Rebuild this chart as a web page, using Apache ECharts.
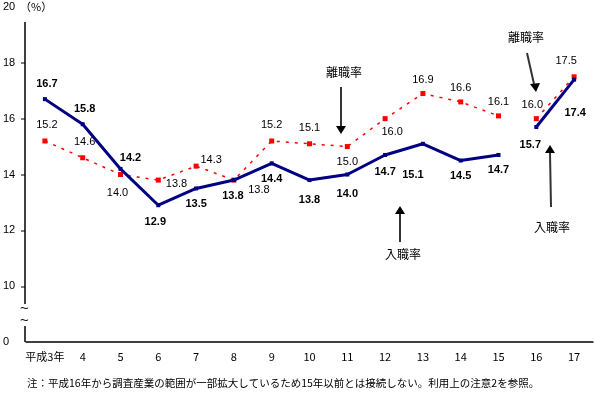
<!DOCTYPE html>
<html>
<head>
<meta charset="utf-8">
<script src="https://cdn.jsdelivr.net/npm/echarts@6/dist/echarts.min.js"></script>
<style>
  html, body { margin: 0; padding: 0; background: #fff; }
  #main { width: 595px; height: 396px; }
</style>
</head>
<body>
<div id="main"></div>
<script>
// 年次（平成）
const years = ['平成3年', '4', '5', '6', '7', '8', '9', '10', '11', '12', '13', '14', '15', '16', '17'];

// 入職率・離職率（%）
const nyushoku = [16.7, 15.8, 14.2, 12.9, 13.5, 13.8, 14.4, 13.8, 14.0, 14.7, 15.1, 14.5, 14.7, 15.7, 17.4];
const rishoku = [15.2, 14.6, 14.0, 13.8, 14.3, 13.8, 15.2, 15.1, 15.0, 16.0, 16.9, 16.6, 16.1, 16.0, 17.5];

// 平成16年から調査範囲が変わるので線を切る
const breakAt = 13;

// ラベル位置
const nyuPos = ['top', 'top', 'top', 'bottom', 'bottom', 'bottom', 'bottom', 'bottom', 'bottom', 'bottom', 'bottom', 'bottom', 'bottom', 'bottom', 'bottom'];
const riPos = ['top', 'top', 'bottom', 'right', 'top', 'bottom', 'top', 'top', 'bottom', 'bottom', 'top', 'top', 'top', 'top', 'top'];
const nyuOffset = [[2, -2], [2, -2], [10, 3], [-3, 3], [0, 2], [-1, 2], [0, 2], [0, 6], [0, 6], [0, 4], [-10, 18], [0, 2], [0, 2], [-6, 4], [1, 20]];
const riOffset = [[2, -2], [2, -2], [-3, 4], [-1, 4], [15, 8], [25, -4], [0, -2], [0, -2], [0, 1], [7, -1], [0, 0], [0, 0], [0, 0], [-4, 0], [-8, -2]];

function split(values, part) {
  return values.map((v, i) => {
    if (part === 0) return i < breakAt ? v : '-';
    return i >= breakAt ? v : '-';
  });
}

function withLabels(values, pos, offset) {
  return values.map((v, i) => v === '-' ? '-' : {
    value: v,
    label: { position: pos[i], offset: offset[i] }
  });
}

const numFont = 'Liberation Sans, Arial, sans-serif';
const jpFont = 'Noto Sans CJK JP, sans-serif';

const nyuStyle = {
  type: 'line',
  symbol: 'rect',
  symbolSize: 4,
  itemStyle: { color: '#000080' },
  lineStyle: { color: '#000080', width: 3 },
  label: {
    show: true,
    color: '#000',
    fontWeight: 'bold',
    fontSize: 11,
    fontFamily: numFont,
    distance: 6,
    formatter: p => p.value.toFixed(1)
  },
  z: 3
};

const riStyle = {
  type: 'line',
  symbol: 'rect',
  symbolSize: 5,
  itemStyle: { color: '#ff0000' },
  lineStyle: { color: '#ff0000', width: 1.5, type: [3, 6] },
  label: {
    show: true,
    color: '#000',
    fontSize: 11,
    fontFamily: numFont,
    distance: 6,
    formatter: p => p.value.toFixed(1)
  },
  z: 2
};

const chart = echarts.init(document.getElementById('main'));

const option = {
  animation: false,
  backgroundColor: '#fff',
  grid: { left: 25, right: 2, top: 7, bottom: 54 },
  xAxis: {
    type: 'category',
    data: years,
    boundaryGap: true,
    axisLine: { lineStyle: { color: '#000', width: 1.5 } },
    axisTick: { inside: true, length: 3, lineStyle: { color: '#000' } },
    axisLabel: { interval: 0, color: '#000', fontSize: 11, fontFamily: jpFont, margin: 9 }
  },
  yAxis: {
    type: 'value',
    min: 8,
    max: 20,
    interval: 2,
    splitLine: { show: false },
    axisLine: { show: false },
    axisTick: { show: false },
    axisLabel: {
      color: '#000',
      fontSize: 11,
      fontFamily: numFont,
      align: 'left',
      margin: 23,
      formatter: v => v === 8 ? '0' : String(v)
    }
  },
  series: [
    Object.assign({ name: '入職率' }, nyuStyle, { data: withLabels(split(nyushoku, 0), nyuPos, nyuOffset) }),
    Object.assign({ name: '入職率' }, nyuStyle, { data: withLabels(split(nyushoku, 1), nyuPos, nyuOffset) }),
    Object.assign({ name: '離職率' }, riStyle, { data: withLabels(split(rishoku, 0), riPos, riOffset) }),
    Object.assign({ name: '離職率' }, riStyle, { data: withLabels(split(rishoku, 1), riPos, riOffset) })
  ],
  graphic: [
    // 縦軸（途中省略あり）
    { type: 'line', shape: { x1: 25, y1: 22, x2: 25, y2: 304 }, style: { stroke: '#000', lineWidth: 1.5 } },
    { type: 'line', shape: { x1: 25, y1: 326, x2: 25, y2: 342 }, style: { stroke: '#000', lineWidth: 1.5 } },
    { type: 'line', shape: { x1: 21, y1: 63, x2: 25, y2: 63 }, style: { stroke: '#000' } },
    { type: 'line', shape: { x1: 21, y1: 119, x2: 25, y2: 119 }, style: { stroke: '#000' } },
    { type: 'line', shape: { x1: 21, y1: 175, x2: 25, y2: 175 }, style: { stroke: '#000' } },
    { type: 'line', shape: { x1: 21, y1: 231, x2: 25, y2: 231 }, style: { stroke: '#000' } },
    { type: 'line', shape: { x1: 21, y1: 287, x2: 25, y2: 287 }, style: { stroke: '#000' } },
    { type: 'text', left: 20, top: 301, style: { text: '~', fontSize: 15, fontFamily: numFont, fill: '#000' } },
    { type: 'text', left: 20, top: 313, style: { text: '~', fontSize: 15, fontFamily: numFont, fill: '#000' } },
    { type: 'text', left: 20, top: 1, style: { text: '（%）', fontSize: 11, fontFamily: jpFont, fill: '#000' } },

    // 注記（矢印）
    { type: 'text', left: 326, top: 66, style: { text: '離職率', fontSize: 12, fontFamily: jpFont, fill: '#000' } },
    { type: 'line', shape: { x1: 341, y1: 87, x2: 341, y2: 126 }, style: { stroke: '#333', lineWidth: 2 } },
    { type: 'polygon', shape: { points: [[336, 126], [346, 126], [341, 134]] }, style: { fill: '#000' } },

    { type: 'text', left: 385, top: 248, style: { text: '入職率', fontSize: 12, fontFamily: jpFont, fill: '#000' } },
    { type: 'line', shape: { x1: 400, y1: 242, x2: 400, y2: 214 }, style: { stroke: '#333', lineWidth: 2 } },
    { type: 'polygon', shape: { points: [[395, 214], [405, 214], [400, 206]] }, style: { fill: '#000' } },

    { type: 'text', left: 508, top: 31, style: { text: '離職率', fontSize: 12, fontFamily: jpFont, fill: '#000' } },
    { type: 'line', shape: { x1: 527, y1: 53, x2: 534, y2: 84 }, style: { stroke: '#333', lineWidth: 2 } },
    { type: 'polygon', shape: { points: [[530, 84], [540, 83], [536, 92]] }, style: { fill: '#000' } },

    { type: 'text', left: 534, top: 221, style: { text: '入職率', fontSize: 12, fontFamily: jpFont, fill: '#000' } },
    { type: 'line', shape: { x1: 551, y1: 207, x2: 550, y2: 153 }, style: { stroke: '#333', lineWidth: 2 } },
    { type: 'polygon', shape: { points: [[545, 153], [555, 153], [550, 145]] }, style: { fill: '#000' } },

    // 注
    { type: 'text', left: 27, top: 378, style: { text: '注：平成16年から調査産業の範囲が一部拡大しているため15年以前とは接続しない。利用上の注意2を参照。', fontSize: 10.5, fontFamily: jpFont, fill: '#000' } }
  ]
};

chart.setOption(option);
</script>
</body>
</html>
